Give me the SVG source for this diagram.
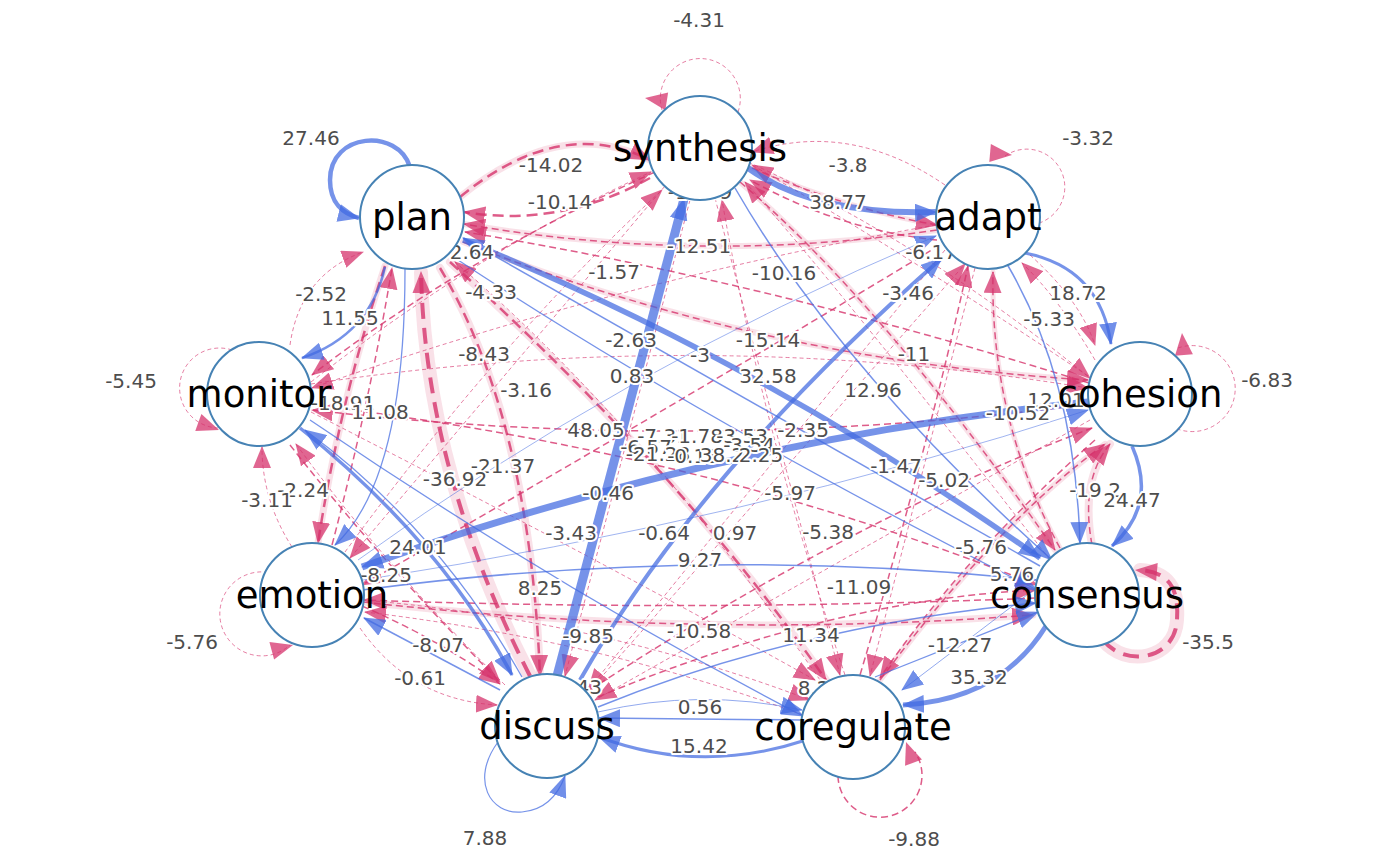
<svg xmlns="http://www.w3.org/2000/svg" xmlns:xlink="http://www.w3.org/1999/xlink" width="1400" height="866" viewBox="0 0 1400 866">
<style>
.b{stroke:#4169e1;stroke-opacity:.72;fill:none;marker-end:url(#ab)}
.r{stroke:#d6336c;stroke-opacity:.8;fill:none;marker-end:url(#ar)}
.rl{stroke:#d6336c;stroke-opacity:.8;fill:none}
.h{stroke:#f0b3c6;stroke-opacity:.4;fill:none;stroke-linecap:round}
.r1{stroke-width:.8;stroke-dasharray:4 3}
.r2{stroke-width:1.5;stroke-dasharray:7 4}
.r3{stroke-width:2.5;stroke-dasharray:11 6}
.r4{stroke-width:4;stroke-dasharray:16 9}
.lab{font-family:'DejaVu Sans',Verdana,sans-serif;font-size:20px;fill:#4d4d4d;text-anchor:middle;stroke:#fff;stroke-width:4;paint-order:stroke;stroke-linejoin:round}
.nd circle{fill:#fff;stroke:#4682b4;stroke-width:2}
.nd text{font-family:'DejaVu Sans',Verdana,sans-serif;font-size:37px;text-anchor:middle;fill:#000}
</style>
<defs>
<marker id="ab" viewBox="0 0 22 18" refX="21" refY="9" markerWidth="22" markerHeight="18" markerUnits="userSpaceOnUse" orient="auto"><path d="M0,0 L22,9 L0,18 z" fill="#4169e1" fill-opacity=".75"/></marker>
<marker id="ar" viewBox="0 0 22 18" refX="21" refY="9" markerWidth="22" markerHeight="18" markerUnits="userSpaceOnUse" orient="auto"><path d="M0,0 L22,9 L0,18 z" fill="#d6336c" fill-opacity=".75"/></marker>
<path id="tr" d="M0,0 L-22,-9 L-22,9 z" fill="#d6336c" fill-opacity=".75"/>
</defs>
<rect width="1400" height="866" fill="#fff"/>
<g id="connectors">
<path class="h" stroke-width="14" stroke-opacity=".6" d="M 1103,640 C 1125,668 1175,660 1177,620 C 1179,590 1170,572 1140,570"/>
<path class="h" stroke-width="14" stroke-opacity=".6" d="M 530,676 Q 425,470 421,272"/>
<path class="h" stroke-width="8" d="M 440,268 Q 530,420 540,676"/>
<path class="h" stroke-width="8" d="M 450,262 Q 680,470 826,680"/>
<path class="h" stroke-width="7" d="M 460,197 Q 560,115 650,160"/>
<path class="h" stroke-width="6" d="M 937,230 Q 700,265 464,224"/>
<path class="h" stroke-width="6" d="M 463,242 Q 760,360 1088,380"/>
<path class="h" stroke-width="7" d="M 385,266 Q 340,400 318,543"/>
<path class="h" stroke-width="5" d="M 752,168 Q 850,210 937,225"/>
<path class="h" stroke-width="6" d="M 740,182 Q 880,300 1055,550"/>
<path class="h" stroke-width="5" d="M 1060,548 Q 990,420 993,272"/>
<path class="h" stroke-width="6" d="M 880,680 Q 1000,520 1105,444"/>
<path class="h" stroke-width="8" d="M 1092,545 Q 1080,480 1110,444"/>
<path class="h" stroke-width="7" d="M 363,602 Q 700,640 1033,615"/>
<path class="rl r1" d="M 738,112 A 40 40 0 1 0 662,110"/>
<path class="rl r1" d="M 1005,156 A 38 38 0 1 1 1036,224"/>
<path class="rl r1" d="M 1178,348 A 43 43 0 1 1 1175,428"/>
<path class="rl r1" d="M 232,350 A 40 40 0 1 0 218,428"/>
<path class="rl r1" d="M 275,574 A 42 42 0 1 0 290,645"/>
<path class="rl r2" d="M 838,776 A 42 42 0 1 0 915,752"/>
<path class="rl r4" d="M 1103,640 C 1125,668 1175,660 1177,620 C 1179,590 1170,572 1140,570"/>
<path class="r r3" d="M 460,197 Q 560,115 650,160"/>
<path class="r r3" d="M 650,178 Q 560,228 464,212"/>
<path class="r r2" d="M 937,230 Q 700,265 464,224"/>
<path class="r r2" d="M 1089,383 Q 760,280 465,232"/>
<path class="r r2" d="M 463,242 Q 760,360 1088,380"/>
<path class="r r3" d="M 450,262 Q 680,470 826,680"/>
<path class="r r4" d="M 530,676 Q 425,470 421,272"/>
<path class="r r3" d="M 440,268 Q 530,420 540,676"/>
<path class="r r1" d="M 290,345 Q 300,275 363,252"/>
<path class="r r3" d="M 385,266 Q 340,400 318,543"/>
<path class="r r2" d="M 332,545 Q 370,400 392,268"/>
<path class="r r1" d="M 311,384 Q 700,325 1088,388"/>
<path class="r r2" d="M 1088,404 Q 700,455 312,410"/>
<path class="r r2" d="M 655,172 Q 460,260 312,375"/>
<path class="r r1" d="M 936,225 Q 620,280 312,388"/>
<path class="r r1" d="M 292,547 Q 262,500 262,447"/>
<path class="r r1" d="M 505,685 Q 380,560 296,444"/>
<path class="r r2" d="M 290,445 Q 380,560 500,682"/>
<path class="r r1" d="M 945,185 Q 850,120 752,152"/>
<path class="r r2" d="M 752,168 Q 850,210 937,225"/>
<path class="r r2" d="M 937,240 Q 840,230 750,180"/>
<path class="r r2" d="M 740,182 Q 880,300 1055,550"/>
<path class="r r1" d="M 748,162 Q 920,240 1090,378"/>
<path class="r r1" d="M 715,198 L 840,675"/>
<path class="r r1" d="M 690,200 L 565,676"/>
<path class="r r1" d="M 665,186 L 350,558"/>
<path class="r r1" d="M 845,675 Q 760,420 722,200"/>
<path class="r r1" d="M 345,552 Q 500,340 662,190"/>
<path class="r r1" d="M 1050,560 Q 850,300 745,182"/>
<path class="r r1" d="M 311,382 Q 480,250 651,172"/>
<path class="r r2" d="M 1060,548 Q 990,420 993,272"/>
<path class="r r1" d="M 590,690 L 965,264"/>
<path class="r r1" d="M 1095,360 Q 1060,300 1022,263"/>
<path class="r r2" d="M 590,690 Q 850,520 1092,428"/>
<path class="r r2" d="M 880,680 Q 1000,520 1105,444"/>
<path class="r r2" d="M 1092,545 Q 1080,480 1110,444"/>
<path class="r r2" d="M 363,602 Q 700,640 1033,615"/>
<path class="r r2" d="M 598,697 Q 830,600 1036,590"/>
<path class="r r2" d="M 311,405 Q 700,450 1037,585"/>
<path class="r r1" d="M 975,268 L 870,676"/>
<path class="r r2" d="M 1095,440 Q 960,560 880,678"/>
<path class="r r1" d="M 362,600 Q 600,620 810,700"/>
<path class="r r1" d="M 360,628 Q 410,700 497,705"/>
<path class="r r2" d="M 362,606 Q 440,640 500,684"/>
<path class="r r1" d="M 945,250 L 588,690"/>
<path class="r r1" d="M 1090,420 L 595,700"/>
<path class="r r2" d="M 1036,598 Q 700,612 364,600"/>
<path class="r r1" d="M 803,715 Q 600,640 365,612"/>
<path class="r r1" d="M 311,412 Q 600,560 815,680"/>
<path class="r r2" d="M 940,245 Q 650,420 362,585"/>
<path class="r r2" d="M 860,675 Q 930,440 968,266"/>
<path class="r r1" d="M 1088,376 Q 900,250 752,165"/>
<path class="r r1" d="M 820,680 Q 640,420 455,262"/>
<path class="r r1" d="M 1030,255 Q 1080,300 1095,345"/>
<use xlink:href="#tr" transform="translate(645,98) rotate(189)"/>
<use xlink:href="#tr" transform="translate(1012,155) rotate(5)"/>
<use xlink:href="#tr" transform="translate(1182,333) rotate(-95)"/>
<use xlink:href="#tr" transform="translate(219,430) rotate(20)"/>
<use xlink:href="#tr" transform="translate(293,645) rotate(-15)"/>
<use xlink:href="#tr" transform="translate(906,742) rotate(-110)"/>
<use xlink:href="#tr" transform="translate(1135,570) rotate(185)"/>
<path class="b" stroke-width="4.5" d="M 410,167 C 398,128 330,132 330,180 C 330,203 343,214 359,218"/>
<path class="b" stroke-width="6" d="M 748,168 Q 815,216 936,212"/>
<path class="b" stroke-width="3" d="M 1025,253 Q 1100,268 1111,344"/>
<path class="b" stroke-width="3.5" d="M 1132,446 Q 1158,505 1112,546"/>
<path class="b" stroke-width="5" d="M 1046,626 Q 1000,700 903,705"/>
<path class="b" stroke-width="3" d="M 806,740 Q 700,775 599,737"/>
<path class="b" stroke-width="1.2" d="M 498,742 C 470,780 490,815 522,812 C 545,810 558,795 565,776"/>
<path class="b" stroke-width="9" d="M 557,676 L 684,199"/>
<path class="b" stroke-width="7" d="M 1088,402 Q 720,440 362,567"/>
<path class="b" stroke-width="5.5" d="M 463,240 Q 760,360 1040,558"/>
<path class="b" stroke-width="1.5" d="M 1040,566 Q 740,395 463,238"/>
<path class="b" stroke-width="4" d="M 580,680 Q 700,470 942,258"/>
<path class="b" stroke-width="1.5" d="M 735,188 Q 840,370 1052,560"/>
<path class="b" stroke-width="1.5" d="M 1007,264 Q 1075,380 1080,543"/>
<path class="b" stroke-width="2.5" d="M 385,267 Q 370,335 302,358"/>
<path class="b" stroke-width="1.3" d="M 405,269 Q 405,480 335,545"/>
<path class="b" stroke-width="3.5" d="M 300,428 Q 440,540 512,675"/>
<path class="b" stroke-width="1.3" d="M 522,677 Q 437,527 305,430"/>
<path class="b" stroke-width="1.5" d="M 500,690 L 364,618"/>
<path class="b" stroke-width="1.5" d="M 362,590 Q 700,545 1036,580"/>
<path class="b" stroke-width="1.5" d="M 598,707 Q 800,625 1036,603"/>
<path class="b" stroke-width="1.5" d="M 802,720 L 599,718"/>
<path class="b" stroke-width=".8" stroke-opacity=".5" d="M 598,712 Q 700,688 802,710"/>
<path class="b" stroke-width="1.3" d="M 875,677 L 1038,612"/>
<path class="b" stroke-width=".8" d="M 1040,585 L 902,690"/>
<path class="b" stroke-width="1.3" d="M 310,420 Q 560,590 803,716"/>
<path class="b" stroke-width=".7" stroke-opacity=".5" d="M 363,580 Q 750,520 1088,410"/>
<path class="b" stroke-width=".7" stroke-opacity=".5" d="M 358,560 Q 620,370 936,236"/>
<path class="b" stroke-width="1.3" d="M 455,258 Q 700,420 1037,590"/>
<g class="lab">
<text x="699" y="27">-4.31</text>
<text x="311" y="145">27.46</text>
<text x="551" y="172">-14.02</text>
<text x="848" y="172">-3.8</text>
<text x="1088" y="145">-3.32</text>
<text x="560" y="209">-10.14</text>
<text x="838" y="209">38.77</text>
<text x="700" y="199">-12.59</text>
<text x="699" y="253">-12.51</text>
<text x="472" y="259">2.64</text>
<text x="931" y="259">-6.17</text>
<text x="784" y="280">-10.16</text>
<text x="614" y="279">-1.57</text>
<text x="908" y="300">-3.46</text>
<text x="1078" y="300">18.72</text>
<text x="321" y="301">-2.52</text>
<text x="491" y="299">-4.33</text>
<text x="350" y="325">11.55</text>
<text x="1049" y="326">-5.33</text>
<text x="768" y="347">-15.14</text>
<text x="631" y="347">-2.63</text>
<text x="484" y="361">-8.43</text>
<text x="700" y="362">-3</text>
<text x="914" y="361">-11</text>
<text x="131" y="388">-5.45</text>
<text x="1267" y="387">-6.83</text>
<text x="632" y="383">0.83</text>
<text x="768" y="383">32.58</text>
<text x="873" y="397">12.96</text>
<text x="526" y="397">-3.16</text>
<text x="343" y="410">-18.91</text>
<text x="380" y="419">11.08</text>
<text x="1056" y="407">12.01</text>
<text x="1018" y="420">-10.52</text>
<text x="596" y="437">48.05</text>
<text x="803" y="437">-2.35</text>
<text x="663" y="443">-7.31</text>
<text x="697" y="443">-1.78</text>
<text x="742" y="443">-3.53</text>
<text x="646" y="454">-6.57</text>
<text x="749" y="452">-3.54</text>
<text x="658" y="461">-21.28</text>
<text x="693" y="463">-0.13</text>
<text x="722" y="462">38.2</text>
<text x="761" y="462">2.25</text>
<text x="503" y="473">-21.37</text>
<text x="455" y="486">-36.92</text>
<text x="896" y="473">-1.47</text>
<text x="944" y="487">-5.02</text>
<text x="608" y="500">-0.46</text>
<text x="790" y="500">-5.97</text>
<text x="303" y="497">-2.24</text>
<text x="267" y="507">-3.11</text>
<text x="1095" y="497">-19.2</text>
<text x="1132" y="507">24.47</text>
<text x="571" y="540">-3.43</text>
<text x="664" y="540">-0.64</text>
<text x="735" y="540">0.97</text>
<text x="828" y="539">-5.38</text>
<text x="418" y="554">24.01</text>
<text x="981" y="554">-5.76</text>
<text x="700" y="567">9.27</text>
<text x="386" y="582">-8.25</text>
<text x="1012" y="581">5.76</text>
<text x="540" y="595">8.25</text>
<text x="859" y="594">-11.09</text>
<text x="699" y="638">-10.58</text>
<text x="588" y="643">-9.85</text>
<text x="811" y="642">11.34</text>
<text x="192" y="649">-5.76</text>
<text x="1208" y="649">-35.5</text>
<text x="438" y="652">-8.07</text>
<text x="960" y="652">-12.27</text>
<text x="979" y="684">35.32</text>
<text x="420" y="685">-0.61</text>
<text x="576" y="694">-1.43</text>
<text x="820" y="695">8.21</text>
<text x="700" y="714">0.56</text>
<text x="699" y="753">15.42</text>
<text x="485" y="845">7.88</text>
<text x="914" y="846">-9.88</text>
</g>
</g>
<g id="node-synthesis" class="nd"><circle cx="700" cy="148" r="52"/><text x="700" y="161">synthesis</text></g>
<g id="node-adapt" class="nd"><circle cx="988" cy="217" r="52"/><text x="988" y="230">adapt</text></g>
<g id="node-cohesion" class="nd"><circle cx="1140" cy="394" r="52"/><text x="1140" y="407">cohesion</text></g>
<g id="node-consensus" class="nd"><circle cx="1087" cy="595" r="52"/><text x="1087" y="608">consensus</text></g>
<g id="node-coregulate" class="nd"><circle cx="853" cy="727" r="52"/><text x="853" y="740">coregulate</text></g>
<g id="node-discuss" class="nd"><circle cx="547" cy="726" r="52"/><text x="547" y="739">discuss</text></g>
<g id="node-emotion" class="nd"><circle cx="312" cy="595" r="52"/><text x="312" y="608">emotion</text></g>
<g id="node-monitor" class="nd"><circle cx="259" cy="394" r="52"/><text x="259" y="407">monitor</text></g>
<g id="node-plan" class="nd"><circle cx="412" cy="217" r="52"/><text x="412" y="230">plan</text></g>
</svg>
